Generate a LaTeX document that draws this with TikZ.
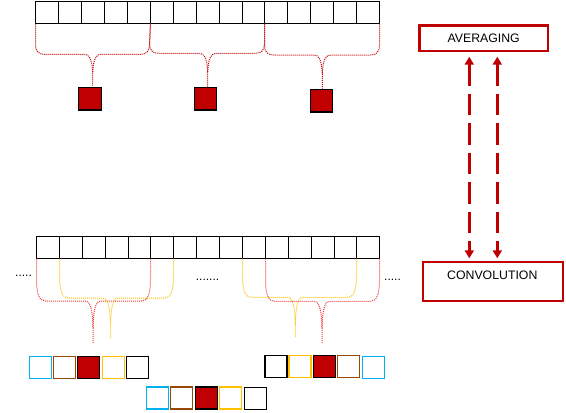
\documentclass[tikz,border=0pt]{standalone}
\usepackage{fontspec}
\setmainfont{Liberation Sans}
\usetikzlibrary{arrows.meta}
\definecolor{dred}{HTML}{C00000}
\definecolor{bred}{HTML}{F03C3C}
\definecolor{ylw}{HTML}{FFC000}
\definecolor{cyn}{HTML}{00B0F0}
\definecolor{brn}{HTML}{974806}
% #1 style, #2 start, #3 end, #4 xl, #5 xr, #6 yh, #7 xt, #8 yb ; \cry corner height, \tph tip height
\newcommand\mybrace[8]{%
 \draw[#1] (#2) -- (#4,#6-\cry) .. controls (#4,#6-0.3*\cry) and (#4+3,#6) .. (#4+9,#6) -- (#7-8,#6) .. controls (#7-4,#6) and (#7-0.5,#6+4) .. (#7,#6+\tph) -- (#7,#8);
 \draw[#1] (#3) -- (#5,#6-\cry) .. controls (#5,#6-0.3*\cry) and (#5-3,#6) .. (#5-9,#6) -- (#7+8,#6) .. controls (#7+4,#6) and (#7+0.5,#6+4) .. (#7,#6+\tph);
}
\begin{document}
\begin{tikzpicture}[x=1pt, y=-1pt,
  cell/.style={minimum height=22pt, inner sep=0, outer sep=0},
  grid/.style={line width=1.2pt, black},
  rsq/.style={draw, line width=1.2pt, fill=dred, minimum size=22.4pt, inner sep=0},
  sq/.style={draw=#1, line width=1.3pt, minimum size=22pt, inner sep=0},
  box/.style={draw=dred, line width=2.4pt, inner sep=0, font=\fontsize{12.3}{14}\selectfont},
  lbl/.style={inner sep=0, font=\fontsize{12.3}{14}\selectfont},
  dots/.style={anchor=base west, inner sep=0, font=\fontsize{12}{14}\selectfont},
  brtop/.style={dred, line width=1pt, dash pattern=on 1pt off 1pt},
  brred/.style={bred, line width=1pt, dash pattern=on 1pt off 1pt},
  bryel/.style={ylw, line width=1pt, dash pattern=on 1pt off 1pt},
  arr/.style={{Triangle[width=9pt,length=8pt]}-{Triangle[width=9pt,length=8pt]}, dred, line width=2.4pt, dash pattern=on 21.5pt off 8pt, shorten <=4.4pt, shorten >=2.4pt}
]
\useasboundingbox (0,0) rectangle (566,413);

% top strip
\foreach \i in {0,...,14}{
  \pgfmathsetmacro\xa{round(35+22.95*\i)+0.5}
  \pgfmathsetmacro\xb{round(35+22.95*(\i+1))+0.5}
  \pgfmathsetmacro\cw{\xb-\xa}
  \node[cell, minimum width=\cw pt] (t\i) at ({(\xa+\xb)/2},12.5) {};
}
\draw[grid] (t0.north west) rectangle (t14.south east);
\foreach \i in {1,...,14} \draw[grid] (t\i.north west) -- (t\i.south west);
% bottom strip
\foreach \i in {0,...,14}{
  \pgfmathsetmacro\xa{round(36+22.89*\i)+0.5}
  \pgfmathsetmacro\xb{round(36+22.89*(\i+1))+0.5}
  \pgfmathsetmacro\cw{\xb-\xa}
  \node[cell, minimum width=\cw pt] (c\i) at ({(\xa+\xb)/2},247.5) {};
}
\draw[grid] (c0.north west) rectangle (c14.south east);
\foreach \i in {1,...,14} \draw[grid] (c\i.north west) -- (c\i.south west);

% averaged outputs
\node[rsq] (a1) at (90,98.7) {};
\node[rsq] (a2) at (205.3,98.7) {};
\node[rsq] (a3) at (321.3,100.8) {};

% top braces
\def\cry{10}\def\tph{19}
\mybrace{brtop}{t0.south west}{t5.south west}{35.5}{149.5}{54.3}{92.7}{86.5}
\mybrace{brtop}{t5.south west}{t10.south west}{149.5}{264.5}{53.3}{207.7}{86.5}
\mybrace{brtop}{t10.south west}{t14.south east}{264.5}{379.5}{55}{322.3}{88.5}

% bottom braces
\def\cry{22}\def\tph{27}
\mybrace{brred}{c0.south west}{c5.south west}{36.5}{150.5}{301}{93}{343.3}
\mybrace{bryel}{c1.south west}{c6.south west}{59.5}{173.5}{298}{110.5}{338.3}
\mybrace{bryel}{c9.south west}{c14.south west}{242.5}{356.5}{297.3}{295.3}{337.7}
\mybrace{brred}{c10.south west}{c14.south east}{265.5}{379.5}{301.3}{322}{343.3}

% dots
\node[dots] (d1) at (15,276.5) {.....};
\node[dots] (d2) at (195.7,280.5) {.......};
\node[dots] (d3) at (384,280) {.....};

% convolution outputs
\node[sq=cyn] (l1) at (40.5,367.8) {};
\node[sq=brn] (l2) at (64.5,367.8) {};
\node[sq, fill=dred] (l3) at (88.8,367.8) {};
\node[sq=ylw] (l4) at (113.5,367.8) {};
\node[sq] (l5) at (137.8,367.8) {};

\node[sq] (r1) at (276,366.8) {};
\node[sq=ylw] (r2) at (300,366.8) {};
\node[sq, fill=dred] (r3) at (324.5,366.8) {};
\node[sq=brn] (r4) at (348.3,366.8) {};
\node[sq=cyn] (r5) at (373.5,367.8) {};

\node[sq=cyn] (m1) at (157.8,397.85) {};
\node[sq=brn] (m2) at (181.8,397.85) {};
\node[sq, fill=dred] (m3) at (206.5,397.85) {};
\node[sq=ylw] (m4) at (230.8,397.85) {};
\node[sq] (m5) at (255.3,398.8) {};

% right boxes
\node[box, minimum width=128.5pt, minimum height=25.6pt] (avg) at (483.7,38.3) {AVERAGING};
\node[box, minimum width=139.9pt, minimum height=39.2pt] (conv) at (492.85,281.5) {};
\node[lbl] (convtxt) at (492.3,275) {CONVOLUTION};

\draw[arr] ([xshift=-14.4pt]avg.south) -- ([xshift=-23.55pt]conv.north);
\draw[arr] ([xshift=13.6pt]avg.south) -- ([xshift=4.45pt]conv.north);
\end{tikzpicture}
\end{document}
